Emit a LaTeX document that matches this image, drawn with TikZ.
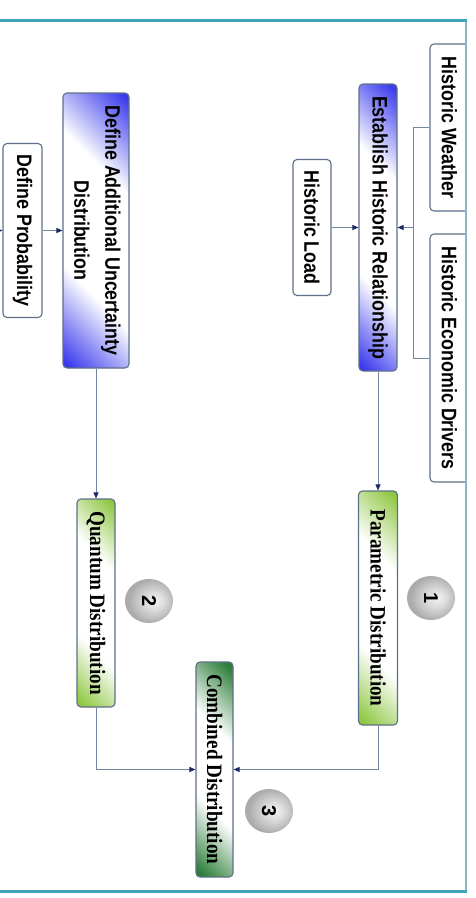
\documentclass[tikz,border=0pt]{standalone}
\usepackage{fontspec}
\usepackage{graphicx}
\setmainfont{Liberation Sans}
\newfontfamily\serifbold{Liberation Serif}
\usetikzlibrary{arrows.meta,shapes.geometric}

% palette
\definecolor{frameteal}{HTML}{3FA3BA}
\definecolor{frameside}{HTML}{8DB3CC}
\definecolor{boxedge}{HTML}{5E7088}
\definecolor{linkline}{HTML}{7485A3}
\definecolor{tipnavy}{HTML}{1C2A66}
\definecolor{deepblue}{HTML}{3A3AEE}
\definecolor{limegreen}{HTML}{8CC63E}
\definecolor{forestgreen}{HTML}{2F7F3B}
\colorlet{sphA}{gray!10}
\colorlet{sphB}{gray!28}
\colorlet{sphC}{gray!52}
\colorlet{sphD}{gray!66}

% diagonal two-corner fills for the process boxes
\pgfdeclareverticalshading{blueband}{100bp}{color(0bp)=(deepblue); color(16bp)=(deepblue); color(36bp)=(white); color(64bp)=(white); color(84bp)=(deepblue); color(100bp)=(deepblue)}
\pgfdeclareverticalshading{greenband}{100bp}{color(0bp)=(limegreen); color(16bp)=(limegreen); color(36bp)=(white); color(64bp)=(white); color(84bp)=(limegreen); color(100bp)=(limegreen)}
\pgfdeclareverticalshading{darkgreenband}{100bp}{color(0bp)=(forestgreen); color(17bp)=(forestgreen); color(38bp)=(white); color(62bp)=(white); color(83bp)=(forestgreen); color(100bp)=(forestgreen)}
% grey numbered spheres
\pgfdeclareradialshading{sphere}{\pgfpoint{7bp}{0bp}}{color(0bp)=(sphA); color(10bp)=(sphB); color(20bp)=(sphC); color(25bp)=(sphD); color(50bp)=(sphD)}

\newcommand\sanslabel[1]{\rotatebox{-90}{\scalebox{0.85}[1]{\fontsize{21}{31}\selectfont\bfseries #1}}}
\newcommand\seriflabel[1]{\rotatebox{-90}{\scalebox{0.87}[1]{\fontsize{22}{26}\selectfont\serifbold\bfseries #1}}}
\newcommand\badgelabel[1]{\rotatebox{-90}{\fontsize{20}{22}\selectfont\bfseries #1}}

\tikzset{
  box/.style={draw=boxedge, line width=1.1pt, rounded corners=4pt, fill=white, inner sep=0pt},
  bluebox/.style={box, shade, shading=blueband, shading angle=-45},
  greenbox/.style={box, shade, shading=greenband, shading angle=-45},
  darkbox/.style={box, shade, shading=darkgreenband, shading angle=-45},
  badge/.style={ellipse, minimum width=48pt, minimum height=44pt, inner sep=0pt, shade, shading=sphere},
  link/.style={draw=linkline, line width=0.9pt},
  arr/.style={link, -{Triangle[length=6pt, width=5pt, color=tipnavy]}}
}

\begin{document}
\begin{tikzpicture}[x=1pt, y=-1pt]
\useasboundingbox (0,0) rectangle (476,898);
\clip (0,0) rectangle (476,898);
\fill[white] (0,0) rectangle (476,898);

% input boxes running into the right border
\begin{scope}
  \clip (0,0) rectangle (466,898);
  \node[box, minimum width=39pt, minimum height=167pt] (hw) at (449.5,127.5) {\sanslabel{Historic Weather}};
  \node[box, minimum width=39pt, minimum height=248pt] (econ) at (449.5,358) {\sanslabel{Historic Economic Drivers}};
\end{scope}

% process boxes
\node[bluebox, minimum width=38pt, minimum height=287pt] (est) at (378,227.5) {\sanslabel{Establish Historic Relationship}};
\node[box, minimum width=38pt, minimum height=136pt] (hl) at (312,227.5) {\sanslabel{Historic Load}};
\node[bluebox, minimum width=66pt, minimum height=275pt] (da) at (96,230.5)
  {\sanslabel{\begin{tabular}{@{}c@{}}Define Additional Uncertainty\\Distribution\end{tabular}}};
\node[box, minimum width=39pt, minimum height=174pt] (dp) at (22.5,230.5) {\sanslabel{Define Probability}};
\node[greenbox, minimum width=39pt, minimum height=234pt] (par) at (378,608) {\seriflabel{Parametric Distribution}};
\node[greenbox, minimum width=38pt, minimum height=208pt] (qd) at (96,603) {\seriflabel{Quantum Distribution}};
\node[darkbox, minimum width=37pt, minimum height=215pt] (cd) at (214.5,769.5) {\seriflabel{Combined Distribution}};

% numbered steps
\node[badge] (b1) at (431,598) {\badgelabel{1}};
\node[badge] (b2) at (149,601) {\badgelabel{2}};
\node[badge] (b3) at (269,811) {\badgelabel{3}};

% connectors
\coordinate (bus) at (413,227.5);
\coordinate (offleft) at (-8,230.5);
\draw[link] (hw.west) -| (bus);
\draw[link] (econ.west) -| (bus);
\draw[arr] (bus) -- (est.east);
\draw[arr] (hl.east) -- (est.west);
\draw[arr] (offleft) -- (dp.west);
\draw[arr] (dp.east) -- (da.west);
\draw[arr] (est.south) -- (par.north);
\draw[arr] (da.south) -- (qd.north);
\draw[arr] (par.south) |- (cd.east);
\draw[arr] (qd.south) |- (cd.west);

% page frame
\draw[frameside, line width=1.5pt] (466,20) -- (466,892);
\draw[frameteal, line width=2.6pt] (-5,20.5) -- (466.75,20.5);
\draw[frameteal, line width=3pt] (-5,891.5) -- (466.75,891.5);
\end{tikzpicture}
\end{document}
